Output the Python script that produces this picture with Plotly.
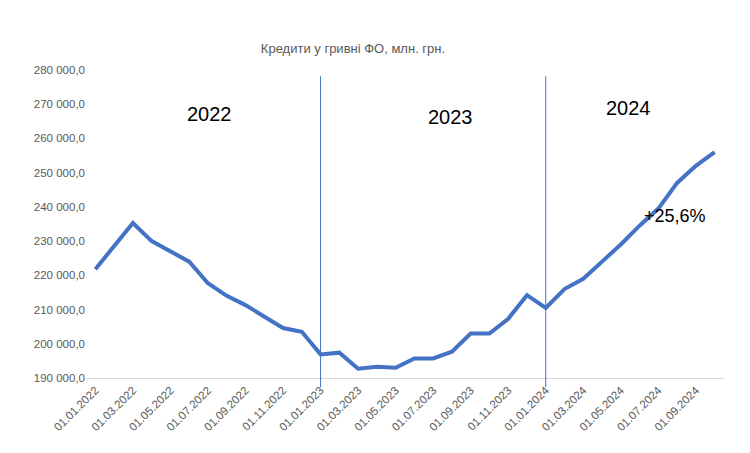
import plotly.graph_objects as go

dates = [f"01.{m:02d}.{y}" for y in (2022, 2023, 2024) for m in range(1, 13)][:34]
values = [221800, 228500, 235300, 230000, 227000, 224000, 217700, 214000, 211300, 208000,
          204600, 203500, 196900, 197400, 192700, 193300, 193000, 195700, 195700, 197700,
          203000, 203000, 207300, 214200, 210500, 216000, 219000, 224000, 229000, 234500,
          239500, 247000, 252000, 256000]
yticks = list(range(190000, 280001, 10000))
ytext = [f"{v//1000} 000,0" for v in yticks]
year_labels = ["2022", "2023", "2024"]
growth_label = "+25,6%"

fig = go.Figure(go.Scatter(x=list(range(len(dates))), y=values, mode="lines",
                           line=dict(color="#4472C4", width=4)))
fig.update_layout(
    width=750, height=453, margin=dict(l=78, r=34, t=62, b=83),
    paper_bgcolor="white", plot_bgcolor="white", showlegend=False,
    title=dict(text="Кредити у гривні ФО, млн. грн.", x=0.46, y=1 - 40 / 453, xanchor="center",
               yanchor="middle",
               font=dict(family="Liberation Sans, Arial", size=13, color="#595959")),
    font=dict(family="Liberation Sans, Arial", color="#595959"),
)
fig.update_xaxes(tickvals=list(range(0, len(dates), 2)), ticktext=dates[::2], tickangle=-45,
                 range=[-0.5, len(dates) - 0.5], showgrid=False, showline=True,
                 linecolor="#d9d9d9", tickfont=dict(size=11.5))
fig.update_yaxes(tickvals=yticks, ticktext=ytext, range=[190000, 280000], showgrid=False,
                 tickfont=dict(size=11.5))
for xi in (12, 24):
    fig.add_shape(type="line", xref="x", yref="paper", x0=xi, x1=xi, y0=-0.03, y1=0.98,
                  line=dict(color="#4472C4", width=1))
for lbl, px, py in zip(year_labels, [6.1, 18.9, 28.4], [0.9, 0.89, 0.92]):
    fig.add_annotation(text=lbl, x=px, y=py, xref="x", yref="paper", showarrow=False,
                       font=dict(size=20, color="black"))
fig.add_annotation(text=growth_label, x=30.9, y=0.526, xref="x", yref="paper", showarrow=False,
                   font=dict(size=18, color="black"))
fig.write_html("out.html")
